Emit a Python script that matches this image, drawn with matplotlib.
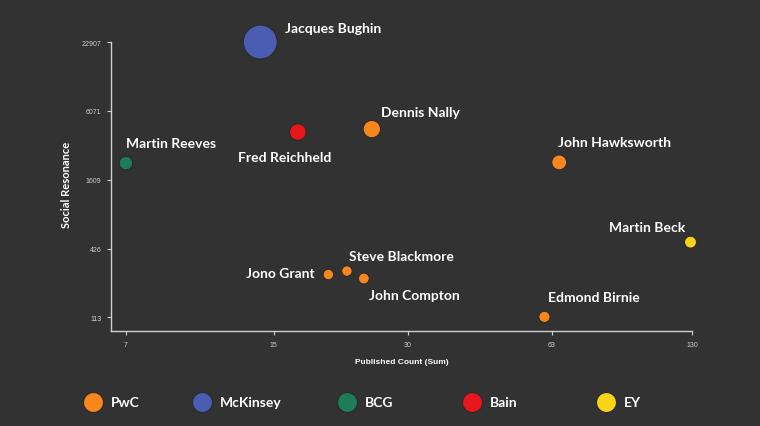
import numpy as np
import matplotlib
matplotlib.use("Agg")
import matplotlib.pyplot as plt

# data
names = ["Jacques Bughin", "Fred Reichheld", "Dennis Nally", "Martin Reeves",
         "John Hawksworth", "Martin Beck", "Jono Grant", "Steve Blackmore",
         "John Compton", "Edmond Birnie"]
firms = ["McKinsey", "Bain", "PwC", "BCG", "PwC", "EY", "PwC", "PwC", "PwC", "PwC"]
published = [14.0, 17.0, 24.9, 7.0, 65.5, 129.0, 19.9, 21.9, 23.9, 60.7]
resonance = [22900, 4030, 4270, 2215, 2245, 482, 258, 276, 239, 114]
mentions = [289, 69, 76, 46, 56, 36, 28, 28, 30, 32]

x_ticks = [7, 15, 30, 63, 130]
y_ticks = [113, 426, 1609, 6071, 22907]

legend_firms = ["PwC", "McKinsey", "BCG", "Bain", "EY"]
firm_colors = {"PwC": "#f7861c", "McKinsey": "#4a5db3", "BCG": "#1e7c58",
               "Bain": "#e8161a", "EY": "#f7d516"}

BG = "#323232"
LABEL_FONT = ["Lato", "DejaVu Sans"]
TICK_FONT = ["Liberation Sans", "DejaVu Sans"]
PX = 72.0 / 100  # px -> points

# label offsets in px (dx, dy up) and alignment
label_pos = {
    "Jacques Bughin": (25, 14, "left"),
    "Fred Reichheld": (-13, -25, "center"),
    "Dennis Nally": (9, 17, "left"),
    "Martin Reeves": (0, 20, "left"),
    "John Hawksworth": (-1, 20, "left"),
    "Martin Beck": (-5, 15, "right"),
    "Jono Grant": (-14, 2, "right"),
    "Steve Blackmore": (2, 15, "left"),
    "John Compton": (5, -16, "left"),
    "Edmond Birnie": (4, 20, "left"),
}

fig = plt.figure(figsize=(7.6, 4.27), dpi=100, facecolor=BG)
ax = fig.add_axes([111 / 760, 1 - 332 / 427, (692 - 111) / 760, (332 - 43) / 427])
ax.set_facecolor(BG)
ax.set_xscale("log")
ax.set_yscale("log")
ax.set_xlim(6.48, 130)
ax.set_ylim(86.8, 22907)

cols = [firm_colors[f] for f in firms]
sizes = [2.07 * m for m in mentions]
ax.scatter(published, resonance, s=sizes, c=cols, edgecolors="#2a2a2a",
           linewidths=0.8, clip_on=False, zorder=3)

for n, xv, yv in zip(names, published, resonance):
    dx, dy, ha = label_pos[n]
    ax.annotate(n, (xv, yv), xytext=(dx * PX, dy * PX), textcoords="offset points",
                ha=ha, va="center", color="white", fontsize=10, fontweight="bold",
                family=LABEL_FONT, annotation_clip=False)

ax.xaxis.set_major_locator(matplotlib.ticker.FixedLocator(x_ticks))
ax.yaxis.set_major_locator(matplotlib.ticker.FixedLocator(y_ticks))
ax.xaxis.set_minor_locator(matplotlib.ticker.NullLocator())
ax.yaxis.set_minor_locator(matplotlib.ticker.NullLocator())
ax.set_xticklabels([str(t) for t in x_ticks], family=TICK_FONT)
ax.set_yticklabels([str(t) for t in y_ticks], family=TICK_FONT)
ax.tick_params(colors="#cfcfcf", labelsize=5, length=3, width=0.8, pad=4)

for s in ["top", "right"]:
    ax.spines[s].set_visible(False)
for s in ["left", "bottom"]:
    ax.spines[s].set_color("#cfcfcf")
    ax.spines[s].set_linewidth(1)

fig.text(67 / 760, 1 - 185 / 427, "Social Resonance", rotation=90, ha="center",
         va="center", color="white", fontsize=8, fontweight="bold", family=LABEL_FONT)
fig.text(402 / 760, 1 - 362 / 427, "Published Count (Sum)", ha="center", va="center",
         color="white", fontsize=6, fontweight="bold", family=TICK_FONT)

# legend row
leg_x = [93, 202, 347, 472, 606]
lax = fig.add_axes([0, 0, 1, 1], facecolor="none")
lax.set_xlim(0, 760)
lax.set_ylim(427, 0)
lax.axis("off")
for f, lx in zip(legend_firms, leg_x):
    lax.scatter([lx], [403], s=207, c=firm_colors[f], edgecolors="#2a2a2a", linewidths=0.8)
    lax.text(lx + 18, 403, f, ha="left", va="center", color="white", fontsize=10,
             fontweight="bold", family=LABEL_FONT)

fig.savefig("out.png", dpi=100, facecolor=BG)
